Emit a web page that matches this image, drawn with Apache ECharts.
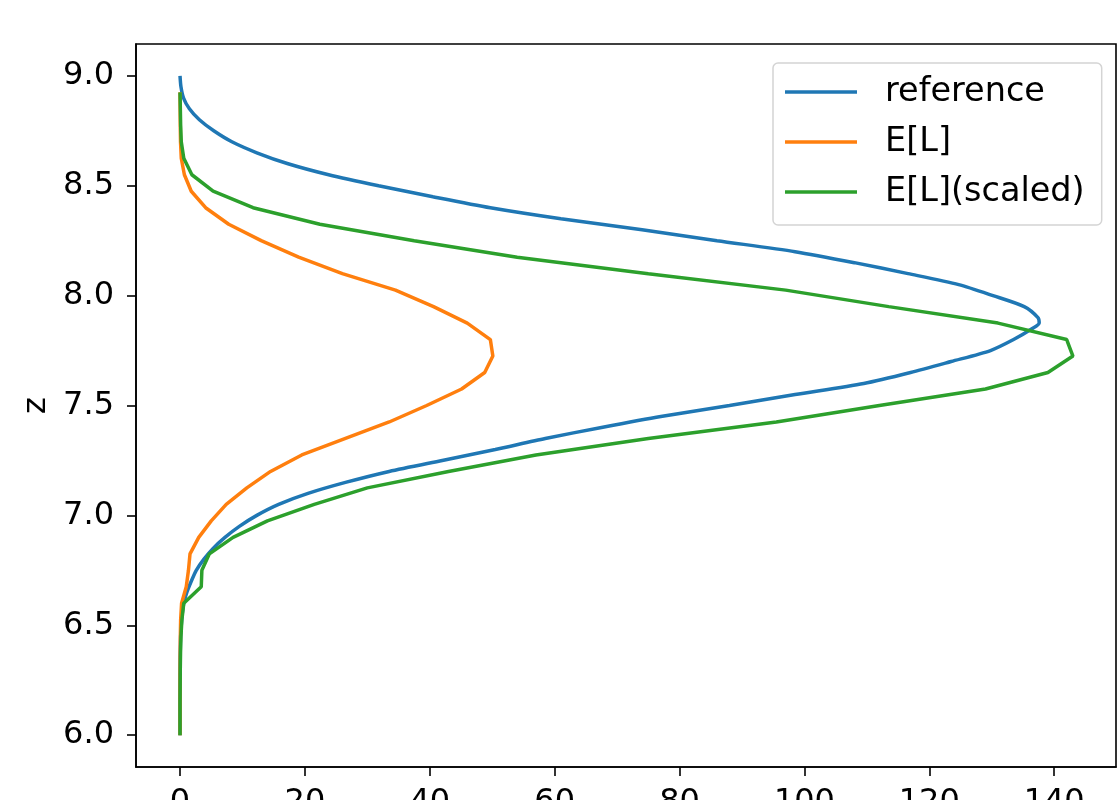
<!DOCTYPE html>
<html>
<head>
<meta charset="utf-8">
<title>z profile</title>
<script src="https://cdn.jsdelivr.net/npm/echarts@6/dist/echarts.min.js"></script>
<style>
  html, body { margin: 0; padding: 0; background: #fff; }
  #chart { width: 1118px; height: 800px; }
</style>
</head>
<body>
<div id="chart"></div>
<script>
// Coarse z levels used by the E[L] estimates
const levelZ = [
  6.0, 6.075, 6.15, 6.225, 6.3, 6.375, 6.45, 6.525, 6.6, 6.675,
  6.75, 6.825, 6.9, 6.975, 7.05, 7.125, 7.2, 7.275, 7.35, 7.425,
  7.5, 7.575, 7.65, 7.725, 7.8, 7.875, 7.95, 8.025, 8.1, 8.175,
  8.25, 8.325, 8.4, 8.475, 8.55, 8.625, 8.7, 8.775, 8.85, 8.925
];
const expectedL = [
  0, 0, 0, 0, 0.01, 0.03, 0.05, 0.1, 0.25, 1.0,
  1.35, 1.6, 3.0, 5.0, 7.4, 10.7, 14.5, 19.5, 26.5, 33.5,
  39.5, 45.1, 48.8, 50.1, 49.7, 46.0, 40.6, 34.5, 26.0, 19.0,
  13.0, 7.8, 4.1, 1.8, 0.7, 0.2, 0.08, 0.04, 0.02, 0
];
const expectedLScaled = [
  0, 0, 0, 0.02, 0.04, 0.08, 0.15, 0.3, 0.6, 3.4,
  3.5, 4.7, 8.5, 14.0, 21.5, 30.0, 43.0, 57.0, 75.0, 95.5,
  112.0, 129.0, 139.0, 143.0, 142.0, 131.0, 113.5, 97.0, 75.0, 54.0,
  37.5, 22.4, 11.7, 5.3, 1.9, 0.6, 0.2, 0.1, 0.05, 0
];

// Fine z levels for the reference profile
const refZ = [
  6.0, 6.05, 6.1, 6.15, 6.2, 6.25, 6.3, 6.35, 6.4, 6.45,
  6.5, 6.55, 6.6, 6.65, 6.7, 6.75, 6.8, 6.85, 6.9, 6.95,
  7.0, 7.05, 7.1, 7.15, 7.2, 7.25, 7.3, 7.35, 7.4, 7.45,
  7.5, 7.55, 7.6, 7.65, 7.7, 7.75, 7.8, 7.85, 7.875, 7.9, 7.95,
  8.0, 8.05, 8.1, 8.15, 8.2, 8.25, 8.3, 8.35, 8.4, 8.45,
  8.5, 8.55, 8.6, 8.65, 8.7, 8.75, 8.8, 8.85, 8.9, 8.95, 9.0
];
const refValue = [
  0, 0, 0, 0, 0, 0, 0.01, 0.02, 0.05, 0.1,
  0.2, 0.35, 0.6, 1.1, 1.8, 2.6, 3.8, 5.3, 7.2, 9.5,
  12.3, 15.8, 20.5, 26.5, 33.5, 42.0, 50.5, 58.5, 67.5, 77.0,
  88.0, 98.5, 109.5, 117.0, 123.5, 129.8, 133.5, 136.5, 137.6, 137.4, 135.2,
  130.2, 124.7, 116.6, 108.0, 98.5, 86.0, 74.0, 61.0, 49.7, 40.5,
  31.8, 23.8, 17.3, 12.3, 8.3, 5.4, 3.1, 1.5, 0.55, 0.15, 0
];

const xTicks = [0, 20, 40, 60, 80, 100, 120, 140];
const zTicks = [6.0, 6.5, 7.0, 7.5, 8.0, 8.5, 9.0];

const seriesNames = ['reference', 'E[L]', 'E[L](scaled)'];
const seriesColors = ['#1f77b4', '#ff7f0e', '#2ca02c'];

const pairs = (xs, zs) => xs.map((v, i) => [v, zs[i]]);

const FONT = 'DejaVu Sans';
const INK = '#000';
const LINE_W = 3.5;

const chart = echarts.init(document.getElementById('chart'), null, { renderer: 'canvas' });

chart.setOption({
  animation: false,
  backgroundColor: '#fff',
  color: seriesColors,
  textStyle: { fontFamily: FONT, color: INK },
  grid: {
    left: 136, right: 2, top: 44, bottom: 33,
    containLabel: false,
    outerBoundsMode: 'none',
    show: true, borderColor: '#000', borderWidth: 1.6, backgroundColor: 'transparent'
  },
  legend: {
    orient: 'vertical',
    left: 773, top: 63,
    padding: [11, 17, 15, 12],
    itemGap: 14,
    itemWidth: 72,
    itemHeight: 3.5,
    icon: 'rect',
    backgroundColor: '#fff',
    borderColor: '#d4d4d4',
    borderWidth: 1.5,
    borderRadius: 5,
    data: seriesNames,
    textStyle: {
      fontFamily: FONT, fontSize: 33.5, color: INK,
      lineHeight: 36, padding: [0, 0, 0, 23]
    }
  },
  xAxis: {
    type: 'value',
    min: -7.05, max: 149.9,
    axisLine: { show: true, onZero: false, lineStyle: { color: '#000', width: 1.6 } },
    axisTick: { show: true, customValues: xTicks, length: 9, lineStyle: { color: '#000', width: 1.6 } },
    axisLabel: { customValues: xTicks, margin: 20, fontFamily: FONT, fontSize: 32, color: INK },
    splitLine: { show: false }
  },
  yAxis: {
    type: 'value',
    min: 5.855, max: 9.145,
    name: 'z',
    nameLocation: 'middle',
    nameRotate: 90,
    nameGap: 80,
    nameTextStyle: { fontFamily: FONT, fontSize: 32, color: INK },
    axisLine: { show: true, onZero: false, lineStyle: { color: '#000', width: 1.6 } },
    axisTick: { show: true, customValues: zTicks, length: 9, lineStyle: { color: '#000', width: 1.6 } },
    axisLabel: {
      customValues: zTicks, margin: 22, fontFamily: FONT, fontSize: 32, color: INK,
      formatter: v => v.toFixed(1)
    },
    splitLine: { show: false }
  },
  series: [
    {
      name: seriesNames[0], type: 'line', symbol: 'none',
      smooth: 0.25,
      lineStyle: { width: LINE_W, color: seriesColors[0] },
      data: pairs(refValue, refZ)
    },
    {
      name: seriesNames[1], type: 'line', symbol: 'none',
      lineStyle: { width: LINE_W, color: seriesColors[1] },
      data: pairs(expectedL, levelZ)
    },
    {
      name: seriesNames[2], type: 'line', symbol: 'none',
      lineStyle: { width: LINE_W, color: seriesColors[2] },
      data: pairs(expectedLScaled, levelZ)
    }
  ]
});
</script>
</body>
</html>
